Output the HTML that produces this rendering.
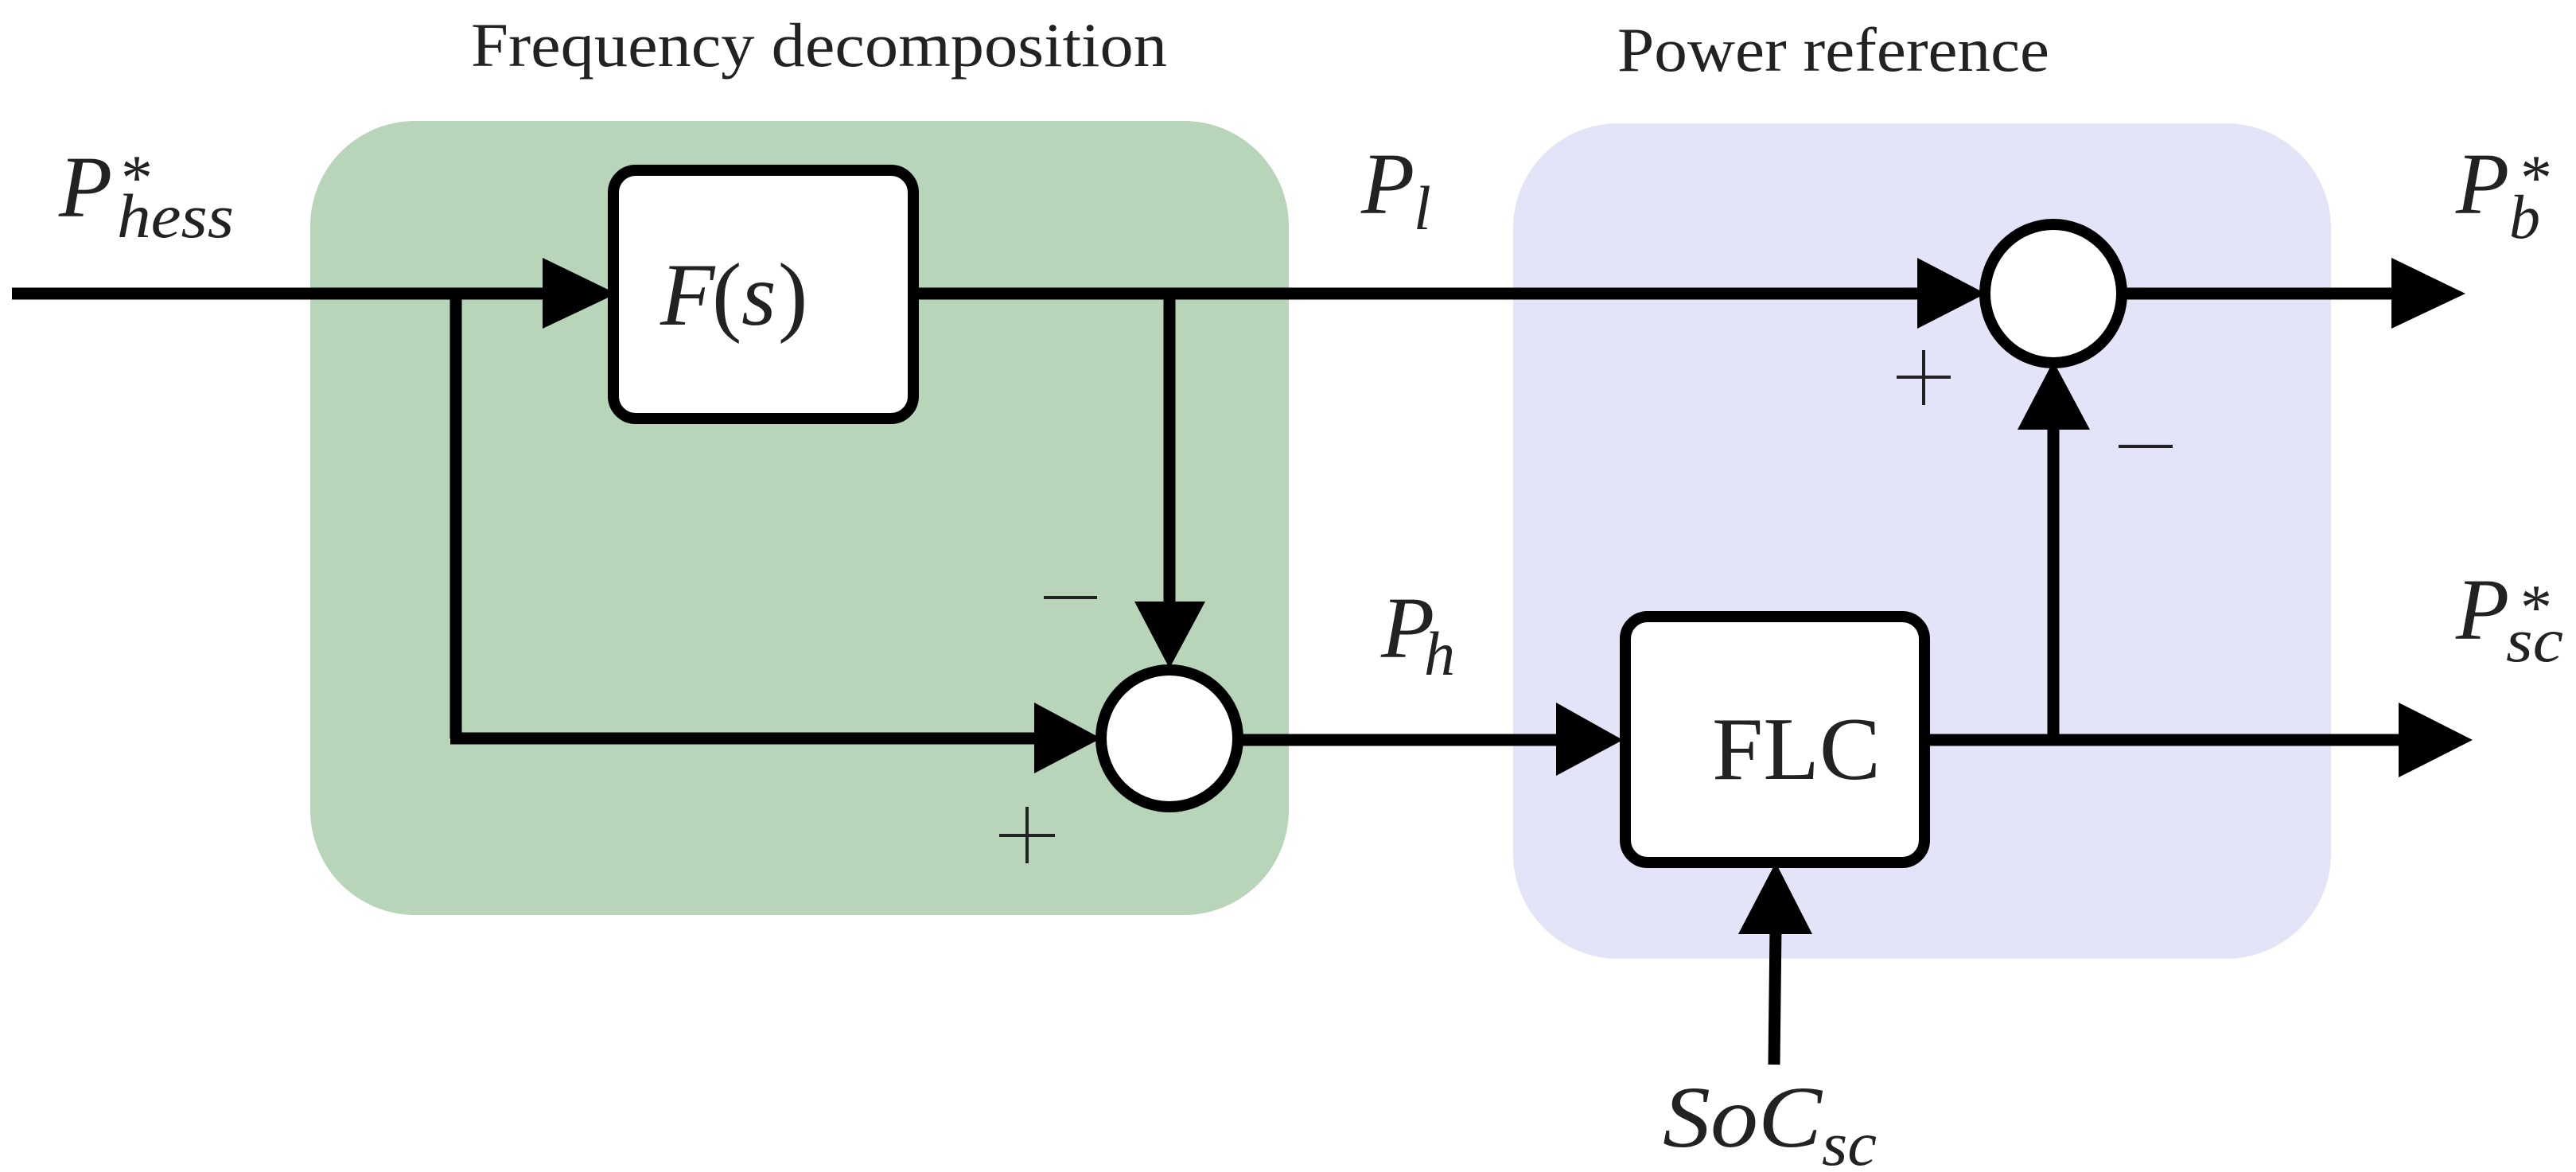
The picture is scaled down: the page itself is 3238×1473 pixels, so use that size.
<!DOCTYPE html>
<html><head><meta charset="utf-8"><style>html,body{margin:0;padding:0;background:#fff}svg{display:block}</style></head>
<body>
<svg width="3238" height="1473" viewBox="0 0 3238 1473" xmlns="http://www.w3.org/2000/svg">
<rect x="390" y="152" width="1230" height="998" rx="132" ry="132" fill="#b8d4b9"/>
<rect x="1902" y="155" width="1028" height="1050" rx="132" ry="132" fill="#e3e4f8"/>
<g stroke="#000" stroke-width="15" fill="none">
<line x1="15" y1="369" x2="700" y2="369"/>
<line x1="1155" y1="369" x2="2420" y2="369"/>
<line x1="573" y1="369" x2="573" y2="928"/>
<line x1="566" y1="928" x2="1310" y2="928"/>
<line x1="1470" y1="369" x2="1470" y2="770"/>
<line x1="1560" y1="930" x2="1966" y2="930"/>
<line x1="2426" y1="930" x2="3020" y2="930"/>
<line x1="2581" y1="930" x2="2581" y2="530"/>
<line x1="2672" y1="369" x2="3010" y2="369"/>
<line x1="2230" y1="1338" x2="2232" y2="1165"/>
</g>
<g stroke="#000" stroke-width="14">
<rect x="771" y="214" width="377" height="312" rx="28" fill="#fff"/>
<rect x="2043" y="775" width="376" height="309" rx="28" fill="#fff"/>
<ellipse cx="1470" cy="928" rx="86" ry="86" fill="#fff"/>
<ellipse cx="2581" cy="369" rx="86" ry="87" fill="#fff"/>
</g>
<g fill="#000">
<polygon points="682,324 775,369 682,413"/>
<polygon points="1300,883 1384,928 1300,972"/>
<polygon points="1426,756 1515,756 1470,840"/>
<polygon points="2410,324 2496,369 2410,413"/>
<polygon points="3006,324 3099,369 3006,413"/>
<polygon points="1956,883 2040,930 1956,975"/>
<polygon points="3015,883 3108,930 3015,977"/>
<polygon points="2536,540 2627,540 2581,454"/>
<polygon points="2185,1174 2278,1174 2232,1084"/>
</g>
<g stroke="#222" stroke-width="4">
<line x1="1312" y1="751" x2="1379" y2="751"/>
<line x1="1256" y1="1050" x2="1326" y2="1050"/>
<line x1="1291" y1="1014" x2="1291" y2="1085"/>
<line x1="2384" y1="474" x2="2452" y2="474"/>
<line x1="2418" y1="440" x2="2418" y2="509"/>
<line x1="2663" y1="561" x2="2731" y2="561"/>
</g>
<g font-family="Liberation Serif, serif" fill="#222">
<text x="592" y="83" font-size="78" textLength="875" lengthAdjust="spacingAndGlyphs">Frequency decomposition</text>
<text x="2033" y="89" font-size="78" textLength="543" lengthAdjust="spacingAndGlyphs">Power reference</text>
<text x="2152" y="979" font-size="112" textLength="212" lengthAdjust="spacingAndGlyphs">FLC</text>
<text x="830" y="408" font-size="112" font-style="italic">F</text>
<text x="895" y="408" font-size="112">(</text>
<text x="932" y="408" font-size="112" font-style="italic">s</text>
<text x="978" y="408" font-size="112">)</text>
<g font-style="italic">
<text x="74" y="272" font-size="110">P</text>
<text x="147" y="298" font-size="78" textLength="147" lengthAdjust="spacingAndGlyphs">hess</text>
<text x="1711" y="268" font-size="110">P</text>
<text x="1777" y="288" font-size="78">l</text>
<text x="1736" y="826" font-size="110">P</text>
<text x="1790" y="848" font-size="78">h</text>
<text x="3087" y="268" font-size="110">P</text>
<text x="3154" y="299" font-size="78">b</text>
<text x="3087" y="803" font-size="110">P</text>
<text x="3150" y="831" font-size="78" textLength="72" lengthAdjust="spacingAndGlyphs">sc</text>
<text x="2090" y="1441" font-size="110" textLength="200" lengthAdjust="spacingAndGlyphs">SoC</text>
<text x="2290" y="1464" font-size="78" textLength="69" lengthAdjust="spacingAndGlyphs">sc</text>
</g>
<text x="152" y="250" font-size="80">*</text>
<text x="3168" y="250" font-size="80">*</text>
<text x="3168" y="790" font-size="80">*</text>
</g>
</svg>
</body></html>
